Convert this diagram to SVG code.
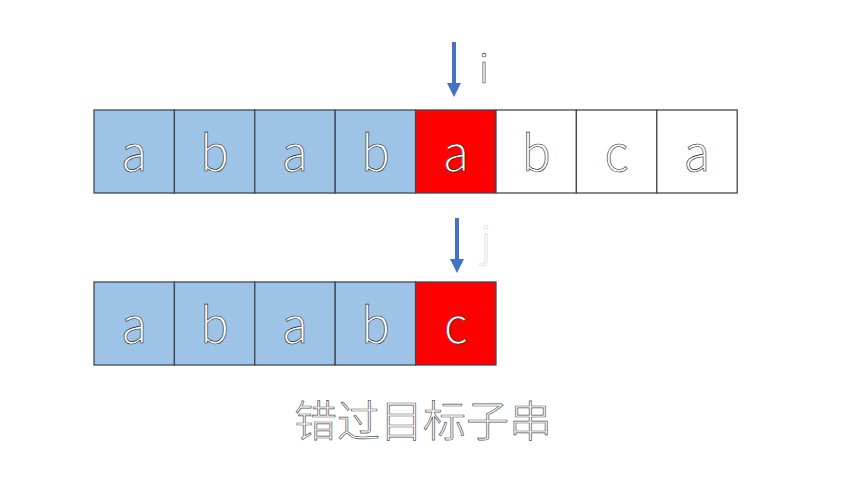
<svg xmlns="http://www.w3.org/2000/svg" width="853" height="480" viewBox="0 0 853 480">
<style>
.cell{stroke:#3f4a55;stroke-width:1.3}
.blue{fill:#9DC3E6}
.red{fill:#FF0000}
.white{fill:#FFFFFF}
.lt{font-family:"Noto Sans CJK SC","Noto Sans",sans-serif;font-weight:200;font-size:48px;fill:#fff;stroke:#222;stroke-width:0.6;text-anchor:middle}
.cn{font-family:"Noto Sans CJK SC",sans-serif;font-weight:200;font-size:43px;fill:#fff;stroke:#555;stroke-width:0.7;text-anchor:middle}
.arrow{stroke:#4472C4;stroke-width:4;fill:none}
.head{fill:#4472C4}
</style>
<rect width="853" height="480" fill="#fff"/>
<g id="connectors">
<g id="arrow-i"><line class="arrow" x1="454" y1="42" x2="454" y2="84"/><polygon class="head" points="447,83 461,83 454,97"/></g>
<g id="arrow-j"><line class="arrow" x1="457" y1="218" x2="457" y2="260"/><polygon class="head" points="450,259 464,259 457,273"/></g>
</g>
<g id="label-i"><text x="484" y="83" font-family="Noto Sans CJK SC,sans-serif" font-weight="200" font-size="40" fill="#fff" stroke="#333" stroke-width="0.6" text-anchor="middle">i</text></g>
<g id="label-j"><text x="486" y="255" font-family="Noto Sans CJK SC,sans-serif" font-weight="200" font-size="40" fill="#fff" stroke="#bbb" stroke-width="0.4" text-anchor="middle">j</text></g>
<g id="row1">
<g id="t0"><rect class="cell blue" x="94" y="110" width="80.4" height="83"/><text class="lt" x="134.2" y="171">a</text></g>
<g id="t1"><rect class="cell blue" x="174.4" y="110" width="80.4" height="83"/><text class="lt" x="214.6" y="171">b</text></g>
<g id="t2"><rect class="cell blue" x="254.8" y="110" width="80.4" height="83"/><text class="lt" x="295" y="171">a</text></g>
<g id="t3"><rect class="cell blue" x="335.2" y="110" width="80.4" height="83"/><text class="lt" x="375.4" y="171">b</text></g>
<g id="t4"><rect class="cell red" x="415.6" y="110" width="80.4" height="83"/><text class="lt" x="455.8" y="171">a</text></g>
<g id="t5"><rect class="cell white" x="496" y="110" width="80.4" height="83"/><text class="lt" x="536.2" y="171">b</text></g>
<g id="t6"><rect class="cell white" x="576.4" y="110" width="80.4" height="83"/><text class="lt" x="616.6" y="171">c</text></g>
<g id="t7"><rect class="cell white" x="656.8" y="110" width="80.4" height="83"/><text class="lt" x="697" y="171">a</text></g>
</g>
<g id="row2">
<g id="p0"><rect class="cell blue" x="94" y="282" width="80.4" height="83"/><text class="lt" x="134.2" y="343">a</text></g>
<g id="p1"><rect class="cell blue" x="174.4" y="282" width="80.4" height="83"/><text class="lt" x="214.6" y="343">b</text></g>
<g id="p2"><rect class="cell blue" x="254.8" y="282" width="80.4" height="83"/><text class="lt" x="295" y="343">a</text></g>
<g id="p3"><rect class="cell blue" x="335.2" y="282" width="80.4" height="83"/><text class="lt" x="375.4" y="343">b</text></g>
<g id="p4"><rect class="cell red" x="415.6" y="282" width="80.4" height="83"/><text class="lt" x="455.8" y="343">c</text></g>
</g>
<g id="caption"><text class="cn" x="423" y="437">错过目标子串</text></g>
</svg>
